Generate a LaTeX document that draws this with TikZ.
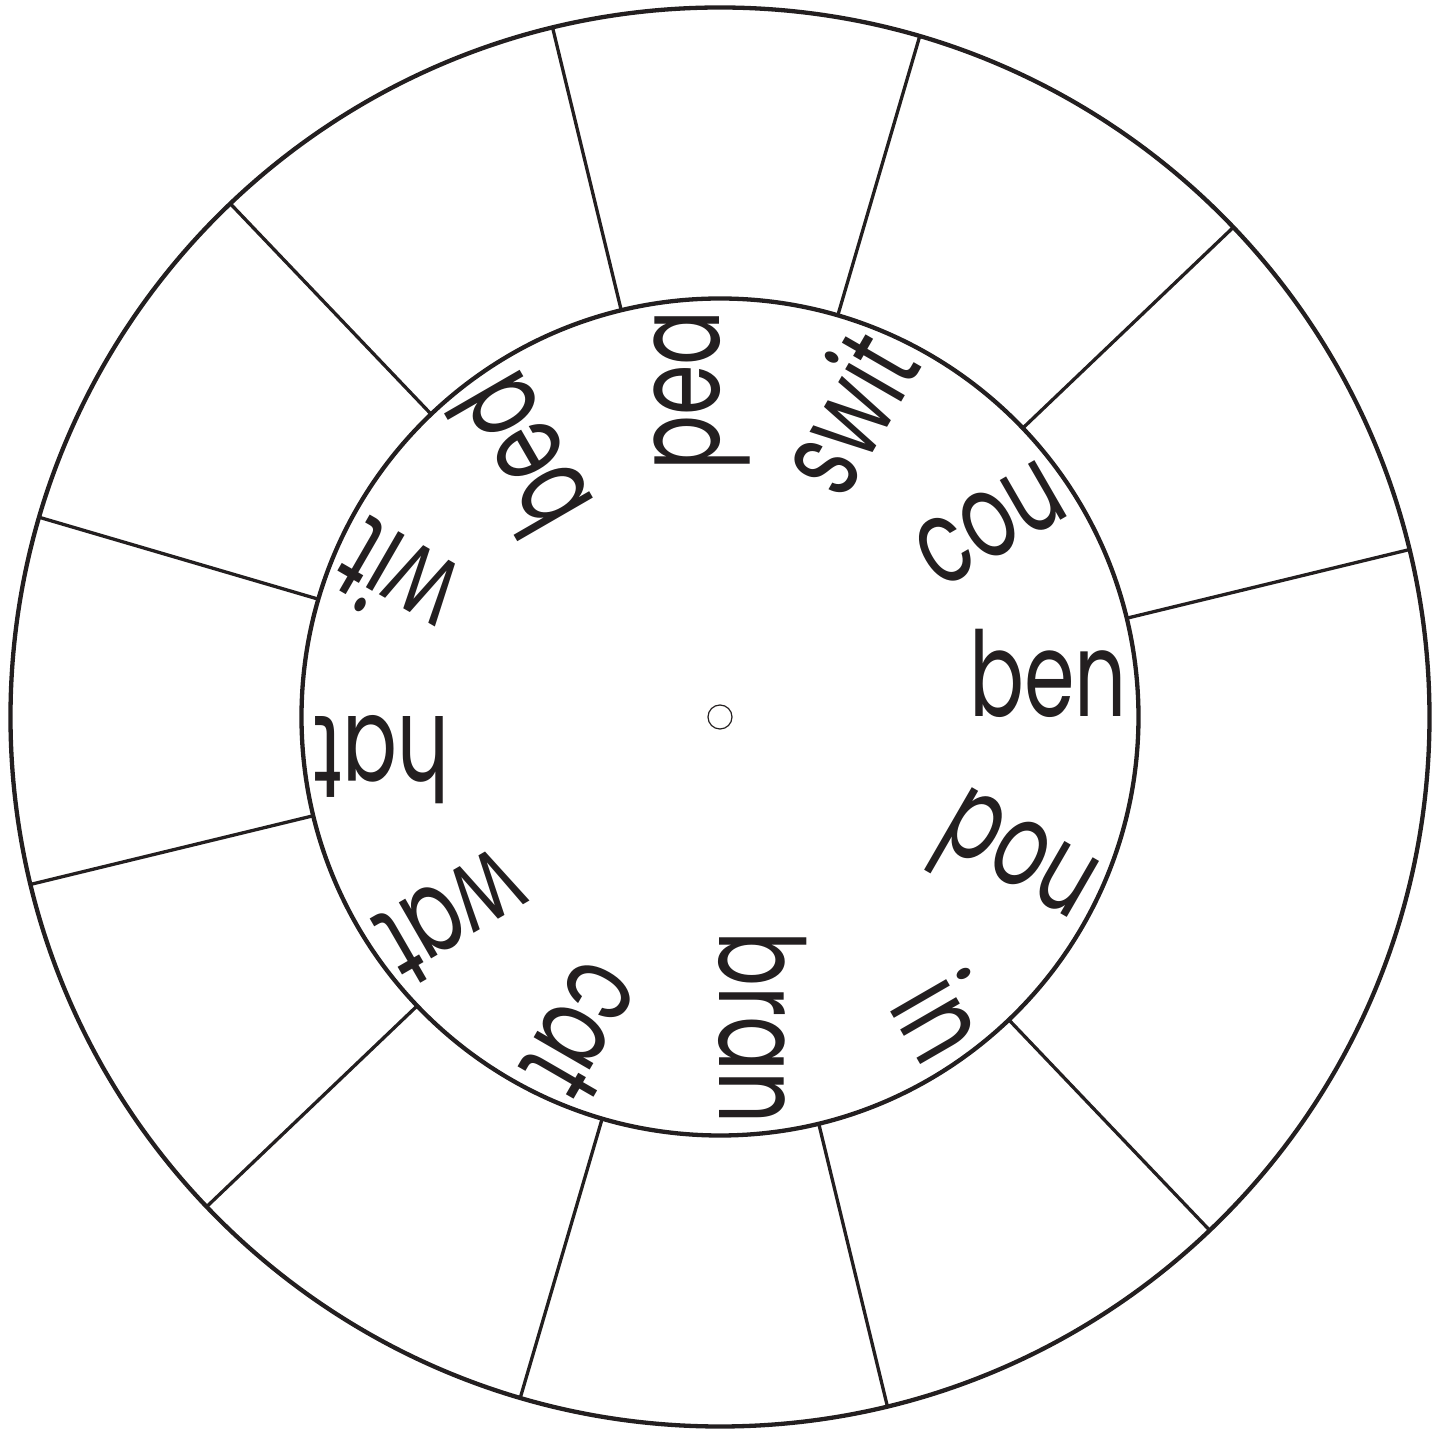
\documentclass[tikz,border=0pt]{standalone}
\usepackage{fontspec}
\newfontfamily\wordfont[FakeStretch=0.69]{Poppins}
\definecolor{ink}{HTML}{231F20}
\tikzset{
  rim/.style={draw=ink, line width=4.3pt},
  spoke/.style={draw=ink, line width=3.3pt},
  word/.style={anchor=base east, inner sep=0pt, text=ink, font=\wordfont\fontsize{118}{122}\selectfont},
  pivot/.style={draw=ink, line width=1.2pt, circle, minimum size=24pt, inner sep=0pt}
}
\begin{document}
\begin{tikzpicture}[x=1pt,y=1pt]
\useasboundingbox (-720,-714) rectangle (729,717);
\coordinate (c) at (0,0);
\draw[rim] (c) circle[radius=709.5];
\draw[rim] (c) circle[radius=418.5];
\node[pivot] (hole) at (c) {};
\foreach \k in {0,...,10} {
  \pgfmathsetmacro{\ang}{13.65+30*\k}
  \coordinate (in\k) at (\ang:418.5);
  \coordinate (out\k) at (\ang:709.5);
  \draw[spoke] (in\k) -- (out\k);
}
\foreach \w/\a in {ben/0, cou/30, swit/60, pea/90, bed/120, wit/150, hat/180, wat/210, cat/240, bran/270, in/300, pou/330} {
  \node[word, rotate=\a] (w\w) at (\a:407) {\w};
}
\end{tikzpicture}
\end{document}
